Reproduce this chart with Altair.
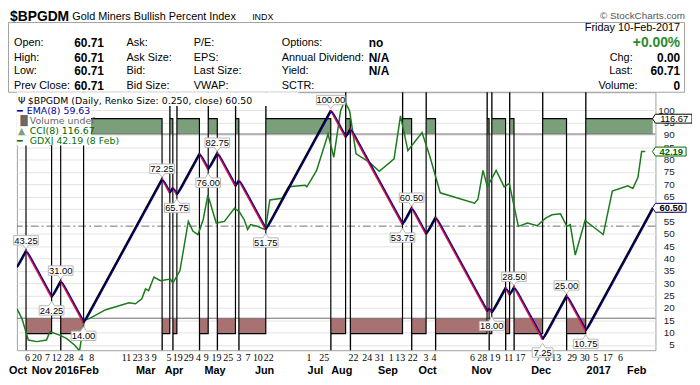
import altair as alt
import pandas as pd

# ---------------- data ----------------
BRICK = 0.25
# Renko closes at reversal points (Gold Miners Bullish Percent Index, box 0.25)
pivot_values = [36.5, 43.25, 24.25, 31.0, 14.0, 72.25, 66.5, 68.75, 65.75, 82.5, 76.0, 82.75,
                69.25, 71.75, 51.75, 100.0, 89.0, 92.5, 53.75, 60.5, 49.75, 56.75, 18.5, 20.0,
                18.0, 28.25, 25.25, 28.5, 7.25, 25.0, 10.75, 60.5]
pivot_labeled = [0, 1, 1, 1, 1, 1, 0, 0, 1, 0, 1, 1, 0, 0, 1, 1, 0, 0, 1, 1, 0, 0, 0, 0,
                 1, 0, 0, 1, 1, 1, 1, 0]

# GDXJ overlay (brick position, price)
gdxj_brick = [0, 15, 34, 59, 88, 98, 127, 147, 171, 186, 200, 215, 264, 333, 352, 371, 382, 391,
              407, 426, 456, 463, 484, 509, 523, 538, 553, 567, 592, 616, 646, 660, 675, 685, 694,
              714, 738, 751, 787, 807, 856, 861, 890, 924, 941, 961, 973, 988, 1007, 1046, 1076,
              1120, 1139, 1161, 1203, 1227, 1257, 1359, 1369, 1384, 1397, 1423, 1447, 1462, 1489,
              1516, 1545, 1570, 1589, 1614, 1633, 1643, 1658, 1687, 1741, 1768, 1814, 1829, 1844,
              1855, 1866]
gdxj_value = [22.80, 21.58, 18.94, 18.74, 18.94, 19.96, 19.54, 19.14, 18.32, 17.60, 21.37, 21.58,
              22.68, 23.53, 23.41, 24.02, 25.24, 25.03, 26.70, 26.25, 26.46, 25.97, 27.47, 33.57,
              32.35, 31.95, 33.78, 36.82, 33.37, 33.57, 35.20, 34.79, 33.78, 32.56, 33.17, 32.96,
              32.56, 36.21, 36.42, 37.84, 38.04, 37.84, 39.87, 44.35, 41.49, 47.19, 48.41, 47.19,
              41.91, 40.89, 39.75, 41.30, 46.58, 42.31, 44.54, 41.49, 37.10, 35.81, 36.30, 39.87,
              37.84, 39.87, 37.84, 38.25, 32.96, 33.37, 33.04, 33.98, 34.39, 34.51, 32.96, 33.17,
              29.42, 33.69, 31.95, 37.31, 37.96, 37.64, 38.98, 42.19, 42.19]

day_brick = [30, 58, 89, 117, 153, 189, 221, 324, 357, 385, 406, 450, 476, 509, 538, 561, 591,
             626, 658, 685, 714, 746, 866, 911, 998, 1039, 1076, 1110, 1137, 1174, 1213, 1237,
             1351, 1380, 1409, 1427, 1459, 1494, 1547, 1574, 1600, 1647, 1685, 1717, 1753, 1791]
day_text = ['6', '20', '7', '12', '28', '4', '8', '11', '23', '3', '9', '5', '19', '29', '4', '9',
            '19', '25', '3', '7', '10', '22', '1', '25', '22', '24', '31', '1', '13', '22', '3',
            '4', '6', '28', '1', '9', '11', '17', '7', '8', '13', '29', '30', '5', '17', '6']
month_brick = [2, 73, 147, 213, 381, 465, 587, 734, 885, 963, 1100, 1218, 1379, 1555, 1726, 1839]
month_text = ['Oct', 'Nov', '2016', 'Feb', 'Mar', 'Apr', 'May', 'Jun', 'Jul', 'Aug', 'Sep', 'Oct',
              'Nov', 'Dec', '2017', 'Feb']
price_ticks = list(range(5, 105, 5))

CCI_TREND = 116.67
CCI_SPIKE = 400
CCI_BAND = 100
last_close = 60.50
last_cci = 116.67
last_gdxj = 42.19

# ---------------- geometry ----------------
W, H = 646, 261
LEFT, TOP = 17, 91          # page position of the plot's top-left corner
X_DOM = [0, 1896]
P_DOM = [2.88, 107.28]
C_DOM = [-134.7, 145.4]
G_DOM = [17.68, 49.51]

GREEN_FILL = '#7b9f7b'
BROWN_FILL = '#a87272'
RED = '#e0103c'
NAVY = '#0000a0'
GDXJ_GREEN = '#1b7a1b'
NUM_FONT = 'Liberation Sans'
LEG_FONT = 'DejaVu Sans'

xs = alt.Scale(domain=X_DOM, nice=False, zero=False)
ps = alt.Scale(domain=P_DOM, nice=False, zero=False)
cs = alt.Scale(domain=C_DOM, nice=False, zero=False)
gs = alt.Scale(domain=G_DOM, nice=False, zero=False)

# ---------------- derived tables ----------------
steps = [int(round(abs(b - a) / BRICK)) for a, b in zip(pivot_values[:-1], pivot_values[1:])]
pivot_brick = [0]
for s in steps:
    pivot_brick.append(pivot_brick[-1] + s)

seg_rows = []
for i in range(len(pivot_values) - 1):
    d = 'up' if pivot_values[i + 1] > pivot_values[i] else 'down'
    seg_rows.append({'b': pivot_brick[i], 'v': pivot_values[i], 'seg': i, 'dir': d})
    seg_rows.append({'b': pivot_brick[i + 1], 'v': pivot_values[i + 1], 'seg': i, 'dir': d})
seg_df = pd.DataFrame(seg_rows)

# renko bricks and their EMA(8)
closes = [pivot_values[0]]
for a, b, n in zip(pivot_values[:-1], pivot_values[1:], steps):
    sgn = BRICK if b > a else -BRICK
    closes += [a + sgn * (k + 1) for k in range(n)]
ema = []
e = closes[0]
for c in closes:
    e += (c - e) * 2 / 9
    ema.append(e)
ema_df = pd.DataFrame({'b': list(range(len(closes))), 'v': ema})

# CCI(8): +/-116.67 in trends, spikes out of the panel at reversals
cci_rows = [(0, CCI_TREND)]
for k in range(1, len(pivot_values) - 1):
    b = pivot_brick[k]
    if pivot_values[k] > pivot_values[k - 1]:
        cci_rows += [(b, CCI_TREND), (b + 0.3, -CCI_SPIKE), (b + 0.6, -CCI_TREND)]
    else:
        cci_rows += [(b, -CCI_TREND), (b + 0.3, CCI_SPIKE), (b + 0.6, CCI_TREND)]
cci_rows.append((pivot_brick[-1], CCI_TREND))
cci_df = pd.DataFrame(cci_rows, columns=['b', 'c'])
cci_df['hi'] = cci_df['c'].clip(lower=CCI_BAND)
cci_df['lo'] = cci_df['c'].clip(upper=-CCI_BAND)
cci_df['top'] = CCI_BAND
cci_df['bot'] = -CCI_BAND

gdxj_df = pd.DataFrame({'b': gdxj_brick, 'g': gdxj_value})

lab_rows = []
for k, (v, on) in enumerate(zip(pivot_values, pivot_labeled)):
    if not on:
        continue
    peak = v > pivot_values[k - 1]
    txt = f'{v:.2f}'
    lab_rows.append({'b': pivot_brick[k], 'v': v, 'text': txt,
                     'kind': ('p' if peak else 't') + str(len(txt))})
lab_df = pd.DataFrame(lab_rows)


def box_path(kind):
    w = {4: 21, 5: 25, 6: 29}[int(kind[1:])]
    h = w / 2
    if kind[0] == 'p':
        return f'M{-h},-15L{h},-15L{h},-5.5L3,-5.5L0,-1.5L-3,-5.5L{-h},-5.5Z'
    return f'M{-h},8.5L-3,8.5L0,4L3,8.5L{h},8.5L{h},18L{-h},18Z'


kinds = sorted(lab_df['kind'].unique())
paths = [box_path(k) for k in kinds]

day_expr = ('[' + ','.join(f"'{t}'" for t in day_text) + '][indexof([' +
            ','.join(str(b) for b in day_brick) + '], datum.value)]')
month_expr = ('[' + ','.join(f"'{t}'" for t in month_text) + '][indexof([' +
              ','.join(str(b) for b in month_brick) + '], datum.value)]')

NOX = alt.X('b:Q', scale=xs, axis=None)

# ---------------- layers ----------------
green_area = alt.Chart(cci_df).mark_area(color=GREEN_FILL, clip=True).encode(
    x=NOX, y=alt.Y('hi:Q', scale=cs, axis=None), y2='top:Q')
brown_area = alt.Chart(cci_df).mark_area(color=BROWN_FILL, clip=True).encode(
    x=NOX, y=alt.Y('lo:Q', scale=cs, axis=None), y2='bot:Q')

band_df = pd.DataFrame({'c': [CCI_BAND, -CCI_BAND]})
bands = alt.Chart(band_df).mark_rule(color='#6e6e6e', strokeWidth=1).encode(
    y=alt.Y('c:Q', scale=cs, axis=None))
zero_df = pd.DataFrame({'c': [0]})
zero_line = alt.Chart(zero_df).mark_rule(color='#707070', strokeWidth=1,
                                         strokeDash=[8, 3, 2, 3]).encode(
    y=alt.Y('c:Q', scale=cs, axis=None))

cci_line = alt.Chart(cci_df).mark_line(color='#000000', strokeWidth=1.2, clip=True).encode(
    x=NOX, y=alt.Y('c:Q', scale=cs, axis=None), order='b:Q')

gdxj_line = alt.Chart(gdxj_df).mark_line(color=GDXJ_GREEN, strokeWidth=1.5, clip=True).encode(
    x=NOX, y=alt.Y('g:Q', scale=gs, axis=None), order='b:Q')

price_line = alt.Chart(seg_df).mark_line(strokeWidth=2.0, clip=True).encode(
    x=alt.X('b:Q', scale=xs, axis=alt.Axis(
        orient='bottom', values=day_brick, labelExpr=day_expr, title=None, ticks=False,
        domain=False, grid=False, labelPadding=2, labelFont='Liberation Sans Narrow',
        labelFontSize=10, labelColor='#000', labelOverlap=False, labelFlush=False,
        labelBound=False)),
    y=alt.Y('v:Q', scale=ps, axis=alt.Axis(
        orient='right', values=price_ticks, title=None, ticks=False, domain=False,
        grid=True, gridColor='#e3e3e3', gridWidth=1, labelAlign='right', labelPadding=19,
        labelFont=NUM_FONT, labelFontSize=10, labelColor='#222', labelOverlap=False,
        labelFlush=False)),
    detail='seg:N',
    color=alt.Color('dir:N', scale=alt.Scale(domain=['up', 'down'], range=['#000000', RED]),
                    legend=None),
    order='b:Q')

ema_line = alt.Chart(ema_df).mark_line(color=NAVY, strokeWidth=1.2, clip=True).encode(
    x=alt.X('b:Q', scale=xs, axis=alt.Axis(
        orient='bottom', values=month_brick, labelExpr=month_expr, title=None, ticks=False,
        domain=False, grid=False, labelPadding=15, labelFont='Liberation Sans',
        labelFontSize=11, labelFontWeight='bold', labelColor='#000', labelOverlap=False,
        labelFlush=False, labelBound=False)),
    y=alt.Y('v:Q', scale=ps, axis=None),
    order='b:Q')

# pivot value labels
lab_boxes = alt.Chart(lab_df).mark_point(size=4, filled=True, fill='white', stroke='#b8b8b8',
                                         strokeWidth=1, opacity=1).encode(
    x=NOX, y=alt.Y('v:Q', scale=ps, axis=None),
    shape=alt.Shape('kind:N', scale=alt.Scale(domain=kinds, range=paths), legend=None))
peak_text = alt.Chart(lab_df).transform_filter("datum.kind[0] == 'p'").mark_text(
    font=NUM_FONT, fontSize=9.5, color='#000', dy=-10, baseline='middle').encode(
    x=NOX, y=alt.Y('v:Q', scale=ps, axis=None), text='text:N')
trough_text = alt.Chart(lab_df).transform_filter("datum.kind[0] == 't'").mark_text(
    font=NUM_FONT, fontSize=9.5, color='#000', dy=13.3, baseline='middle').encode(
    x=NOX, y=alt.Y('v:Q', scale=ps, axis=None), text='text:N')

# right-edge value flags
def flag(value, scale, label, stroke, tcolor, weight, width):
    df = pd.DataFrame({'v': [value], 't': [label]})
    path = f'M-3,0L0,-4.5L{width},-4.5L{width},4.5L0,4.5Z'
    box = alt.Chart(df).mark_point(size=4, filled=True, fill='white', stroke=stroke,
                                   strokeWidth=1, opacity=1, shape=path).encode(
        x=alt.value(W), y=alt.Y('v:Q', scale=scale, axis=None))
    txt = alt.Chart(df).mark_text(font=NUM_FONT, fontSize=9.5, fontWeight=weight, color=tcolor,
                                  align='center', baseline='middle').encode(
        x=alt.value(W + width / 2 + 0.5), y=alt.Y('v:Q', scale=scale, axis=None), text='t:N')
    return [box, txt]


flags = (flag(last_cci, cs, f'{last_cci:.2f}', '#000000', '#000000', 'normal', 37) +
         flag(last_gdxj, gs, f'{last_gdxj:.2f}', '#006400', '#006400', 'bold', 31) +
         flag(last_close, ps, f'{last_close:.2f}', '#000060', '#000000', 'bold', 31))

# ---------------- boxes, legend, header (page coordinates) ----------------
def rect_layer(rows, **mark):
    df = pd.DataFrame(rows, columns=['x', 'x2', 'y', 'y2'])
    df[['x', 'x2']] -= LEFT
    df[['y', 'y2']] -= TOP
    return alt.Chart(df).mark_rect(**mark).encode(
        x=alt.X('x:Q', scale=None, axis=None), x2='x2:Q',
        y=alt.Y('y:Q', scale=None, axis=None), y2='y2:Q')


legend_bg = rect_layer([(17, 302, 91, 105), (17, 92, 105, 135), (17, 117, 135, 145)],
                       fill='white', strokeWidth=0)
header_box = rect_layer([(8.5, 692.5, 20.5, 91)], fill='white', stroke='#a0a0a0',
                        strokeWidth=1)

styles = {
    'title': dict(font=NUM_FONT, fontSize=14, fontWeight='bold', color='#000', align='left'),
    'sub': dict(font=NUM_FONT, fontSize=11, color='#000', align='left'),
    'tiny': dict(font=NUM_FONT, fontSize=9, color='#000', align='left'),
    'copy': dict(font=NUM_FONT, fontSize=10, color='#555', align='right'),
    'lab': dict(font=NUM_FONT, fontSize=11, color='#000', align='left'),
    'val': dict(font=NUM_FONT, fontSize=12, fontWeight='bold', color='#000', align='left'),
    'rlab': dict(font=NUM_FONT, fontSize=11, color='#000', align='right'),
    'rval': dict(font=NUM_FONT, fontSize=12, fontWeight='bold', color='#000', align='right'),
    'pct': dict(font=NUM_FONT, fontSize=14, fontWeight='bold', color='#2a8a2a', align='right'),
    'leg_k': dict(font=LEG_FONT, fontSize=9.5, color='#000', align='left'),
    'leg_b': dict(font=LEG_FONT, fontSize=9.5, color=NAVY, align='left'),
    'leg_v': dict(font=LEG_FONT, fontSize=9.5, color='#666', align='left'),
    'leg_c': dict(font=LEG_FONT, fontSize=9.5, color='#006400', align='left'),
    'leg_g': dict(font=LEG_FONT, fontSize=9.5, color='#0a700a', align='left'),
    'leg_cf': dict(font=LEG_FONT, fontSize=9.5, color=GREEN_FILL, align='left'),
}

texts = [
    ('$BPGDM', 10, 14.5, 'title'),
    ('Gold Miners Bullish Percent Index', 73, 14.5, 'sub'),
    ('INDX', 255, 14.5, 'tiny'),
    ('\u00a9 StockCharts.com', 693, 14, 'copy'),
    ('Open:', 14, 41, 'lab'), ('High:', 14, 56, 'lab'), ('Low:', 14, 70, 'lab'),
    ('Prev Close:', 14, 85, 'lab'),
    ('60.71', 75, 41, 'val'), ('60.71', 75, 56, 'val'), ('60.71', 75, 70, 'val'),
    ('60.71', 75, 85, 'val'),
    ('Ask:', 128, 41, 'lab'), ('Ask Size:', 128, 56, 'lab'), ('Bid:', 128, 70, 'lab'),
    ('Bid Size:', 128, 85, 'lab'),
    ('P/E:', 196, 41, 'lab'), ('EPS:', 196, 56, 'lab'), ('Last Size:', 196, 70, 'lab'),
    ('VWAP:', 196, 85, 'lab'),
    ('Options:', 285, 41, 'lab'), ('Annual Dividend:', 285, 56, 'lab'),
    ('Yield:', 285, 70, 'lab'), ('SCTR:', 285, 85, 'lab'),
    ('no', 373, 41, 'val'), ('N/A', 373, 56, 'val'), ('N/A', 373, 70, 'val'),
    ('Friday  10-Feb-2017', 688, 26, 'rlab'),
    ('+0.00%', 688, 41, 'pct'),
    ('Chg:', 640, 56, 'rlab'), ('Last:', 640, 70, 'rlab'), ('Volume:', 645, 85, 'rlab'),
    ('0.00', 688, 56, 'rval'), ('60.71', 688, 70, 'rval'), ('0', 688, 85, 'rval'),
    ('\u03a8', 18, 99.5, 'leg_k'),
    ('$BPGDM (Daily, Renko Size: 0.250, close) 60.50', 28, 99.5, 'leg_k'),
    ('\u2501', 17, 110, 'leg_b'), ('EMA(8) 59.63', 27, 110, 'leg_b'),
    ('\u2590\u258c', 17, 120, 'leg_v'), ('Volume undef', 30, 120, 'leg_v'),
    ('\u25b2', 18, 130, 'leg_cf'), ('CCI(8) 116.67', 30, 130, 'leg_c'),
    ('\u2501', 17, 140, 'leg_g'), ('GDXJ 42.19 (8 Feb)', 30, 140, 'leg_g'),
]
text_df = pd.DataFrame(texts, columns=['text', 'x', 'y', 'style'])
text_df['x'] -= LEFT
text_df['y'] -= TOP

text_layers = []
for name, st in styles.items():
    sub = text_df[text_df['style'] == name]
    if sub.empty:
        continue
    text_layers.append(alt.Chart(sub).mark_text(baseline='middle', **st).encode(
        x=alt.X('x:Q', scale=None, axis=None), y=alt.Y('y:Q', scale=None, axis=None),
        text='text:N'))

layers = ([header_box, green_area, brown_area, bands, zero_line, cci_line, gdxj_line,
           price_line, ema_line, legend_bg, lab_boxes, peak_text, trough_text] + flags +
          text_layers)

chart = alt.layer(*layers).resolve_scale(y='independent').resolve_axis(
    x='independent', y='independent').properties(
    width=W, height=H, background='white',
    padding={'left': LEFT - 8, 'top': TOP - 8, 'right': 700 - 8 - (LEFT - 8) - W,
             'bottom': 385 - 8 - (TOP - 8) - H},
    autosize=alt.AutoSizeParams(type='none')).configure_view(stroke='#a0a0a0', strokeWidth=1)

chart.save('out.html', embed_options={'renderer': 'svg', 'actions': False})
